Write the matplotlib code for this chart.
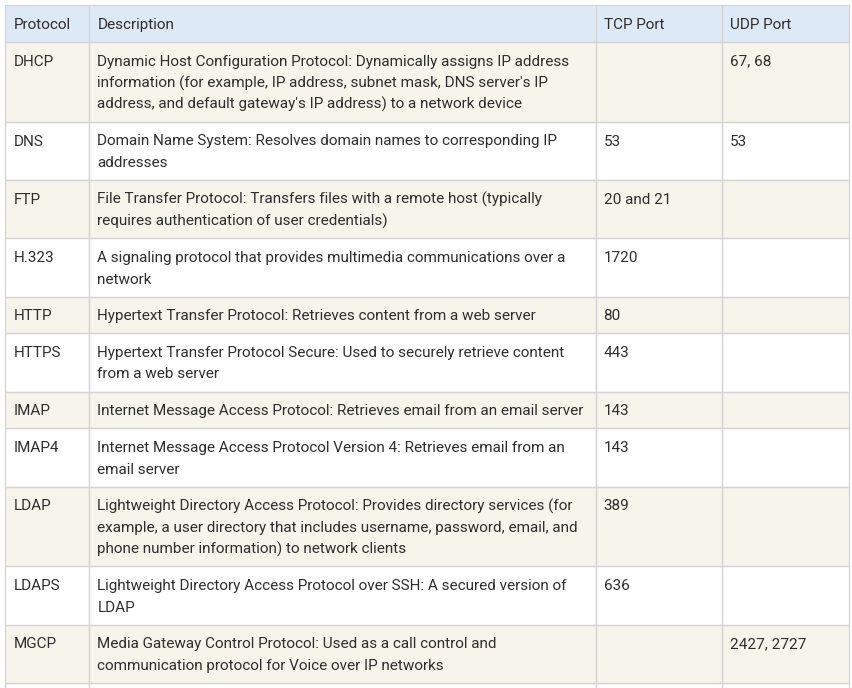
import matplotlib
matplotlib.use("Agg")
import matplotlib.pyplot as plt
from matplotlib.patches import Rectangle

headers = ["Protocol", "Description", "TCP Port", "UDP Port"]
protocols = ["DHCP", "DNS", "FTP", "H.323", "HTTP", "HTTPS", "IMAP", "IMAP4",
             "LDAP", "LDAPS", "MGCP", ""]
descriptions = [
    "Dynamic Host Configuration Protocol: Dynamically assigns IP address\n"
    "information (for example, IP address, subnet mask, DNS server's IP\n"
    "address, and default gateway's IP address) to a network device",
    "Domain Name System: Resolves domain names to corresponding IP\naddresses",
    "File Transfer Protocol: Transfers files with a remote host (typically\n"
    "requires authentication of user credentials)",
    "A signaling protocol that provides multimedia communications over a\nnetwork",
    "Hypertext Transfer Protocol: Retrieves content from a web server",
    "Hypertext Transfer Protocol Secure: Used to securely retrieve content\nfrom a web server",
    "Internet Message Access Protocol: Retrieves email from an email server",
    "Internet Message Access Protocol Version 4: Retrieves email from an\nemail server",
    "Lightweight Directory Access Protocol: Provides directory services (for\n"
    "example, a user directory that includes username, password, email, and\n"
    "phone number information) to network clients",
    "Lightweight Directory Access Protocol over SSH: A secured version of\nLDAP",
    "Media Gateway Control Protocol: Used as a call control and\n"
    "communication protocol for Voice over IP networks",
    "\n\n",
]
tcp_ports = ["", "53", "20 and 21", "1720", "80", "443", "143", "143", "389", "636", "", ""]
udp_ports = ["67, 68", "53", "", "", "", "", "", "", "", "", "2427, 2727", ""]

# layout (pixels)
W, H = 853, 688
left = 5.3
col_widths = [84, 506.3, 126, 127]
top = 5.3
line_h = 21.5
pad_h = 15.25
pad_x = 8
baseline_off = 23.7

header_bg = "#dee9f8"
odd_bg = "#f7f4ec"
even_bg = "#ffffff"
border = "#d4d4d4"
text_col = "#2e2e2e"
fs = 11

plt.rcParams['font.family'] = ['Roboto', 'DejaVu Sans']

fig = plt.figure(figsize=(W / 100, H / 100), dpi=100)
ax = fig.add_axes([0, 0, 1, 1])
ax.set_xlim(0, W)
ax.set_ylim(H, 0)
ax.axis("off")

col_x = [left]
for w in col_widths:
    col_x.append(col_x[-1] + w)
table_w = col_x[-1] - left


def draw_row(y0, cells, bg):
    nlines = max(c.count("\n") + 1 for c in cells)
    h = pad_h + nlines * line_h
    ax.add_patch(Rectangle((left, y0), table_w, h, facecolor=bg, edgecolor="none", zorder=1))
    for i, c in enumerate(cells):
        ax.add_patch(Rectangle((col_x[i], y0), col_widths[i], h, facecolor="none",
                               edgecolor=border, linewidth=0.9, zorder=2))
        for j, ln in enumerate(c.split("\n")):
            if ln:
                ax.text(col_x[i] + pad_x, y0 + baseline_off + j * line_h, ln,
                        fontsize=fs, color=text_col, va="baseline", ha="left", zorder=3)
    return y0 + h


y = top
y = draw_row(y, headers, header_bg)
for k in range(len(protocols)):
    bg = odd_bg if k % 2 == 0 else even_bg
    y = draw_row(y, [protocols[k], descriptions[k], tcp_ports[k], udp_ports[k]], bg)

fig.savefig("out.png", dpi=100)
